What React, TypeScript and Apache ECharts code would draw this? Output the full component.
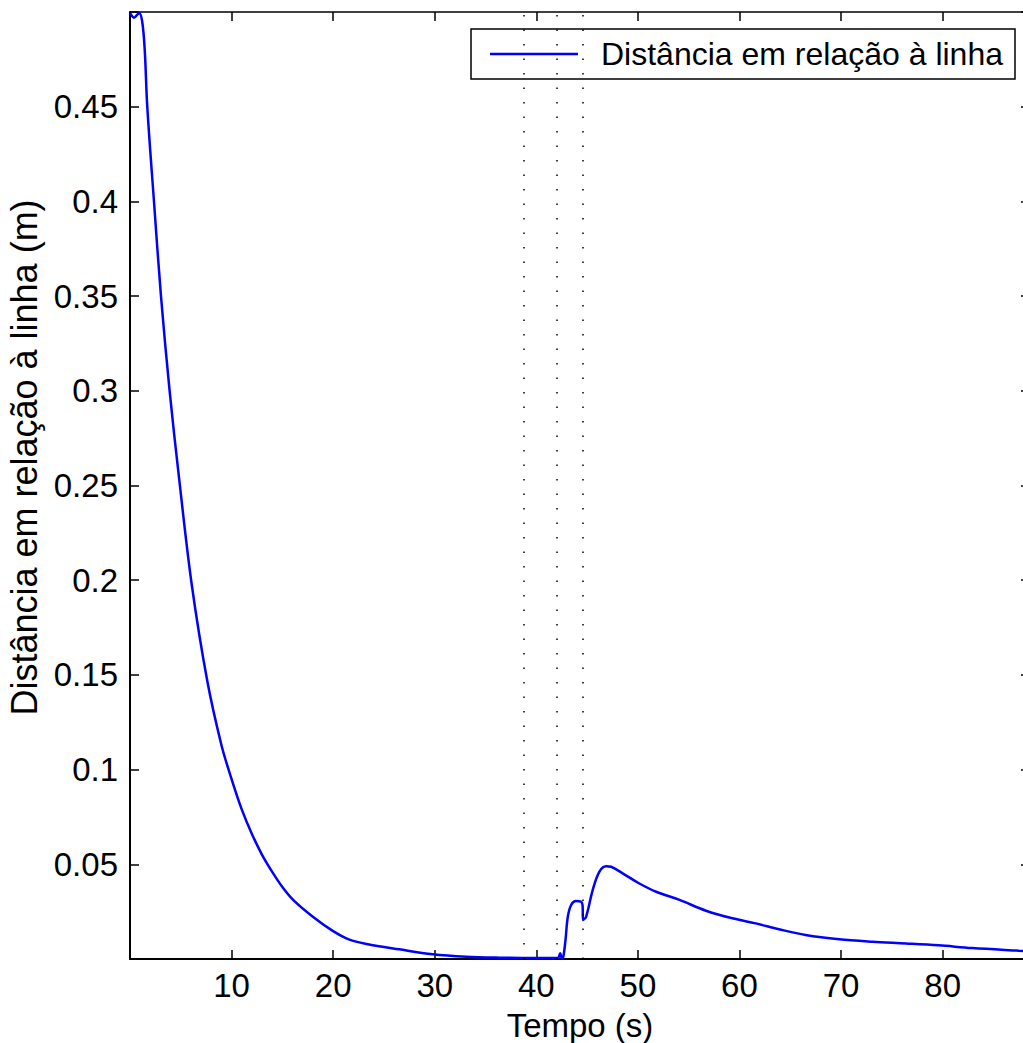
import React, { useEffect, useRef } from "react";
import * as echarts from "echarts";

const seriesName = "Distância em relação à linha";
const xTitle = "Tempo (s)";
const yTitle = "Distância em relação à linha (m)";

const timeS = [
  0, 0.4, 0.9, 1.2, 1.45, 1.7, 2.36, 3.05, 3.9, 4.85, 6.07, 7.6, 9.0, 10.0, 11.0,
  12.0, 13.0, 14.0, 15.0, 16.06, 18.0, 20.0, 21.6, 23.3, 26.5, 29.8, 33.1, 36.4, 40,
  42.1, 42.35, 42.5, 42.65, 42.87, 43.1, 43.43, 43.9, 44.4, 44.55, 44.6, 44.9, 45.55,
  46.2, 46.87, 47.36, 48.5, 50.1, 51.8, 54.1, 56.7, 59.3, 61.6, 63.9, 66.5, 69.8,
  73.1, 76.4, 79.6, 82.9, 87.5, 88.6,
];
const distM = [
  0.4995, 0.497, 0.4995, 0.495, 0.48, 0.45, 0.4, 0.35, 0.3, 0.253, 0.198, 0.147, 0.113,
  0.095, 0.079, 0.066, 0.055, 0.046, 0.038, 0.0312, 0.0223, 0.0147, 0.0102, 0.0079, 0.0051,
  0.0025, 0.0012, 0.0007, 0.0005, 0.0005, 0.003, 0.0005, 0.001, 0.01, 0.0223, 0.0285,
  0.0306, 0.0303, 0.0285, 0.0206, 0.0223, 0.0364, 0.046, 0.049, 0.0487, 0.0452, 0.04,
  0.0355, 0.0312, 0.0255, 0.0215, 0.0188, 0.0157, 0.0127, 0.0104, 0.0091, 0.0082,
  0.0072, 0.0058, 0.0044, 0.0041,
];
const markerTimes = [38.77, 42.05, 44.57];

const FONT = "Liberation Sans, Arial, Helvetica, sans-serif";

function line(width: number) {
  return { show: true, onZero: false, lineStyle: { color: "#000", width } };
}
function tick() {
  return { show: true, inside: true, length: 9, lineStyle: { color: "#000", width: 1.5 } };
}

export default function App() {
  const ref = useRef<HTMLDivElement>(null);
  useEffect(() => {
    if (!ref.current) return;
    const chart = echarts.init(ref.current, null, { renderer: "svg" });
    chart.setOption({
      animation: false,
      backgroundColor: "#fff",
      textStyle: { fontFamily: FONT },
      grid: {
        left: 130,
        top: 12,
        width: 900,
        height: 947,
        containLabel: false,
        outerBoundsMode: "none",
      },
      legend: {
        right: 8,
        top: 29,
        itemWidth: 88,
        itemHeight: 2.5,
        itemGap: 10,
        padding: [9, 12, 9, 19],
        borderColor: "#000",
        borderWidth: 1.5,
        borderRadius: 0,
        backgroundColor: "#fff",
        textStyle: { fontSize: 32, color: "#000", fontFamily: FONT, padding: [0, 0, 0, 18] },
        data: [{ name: seriesName, icon: "rect" }],
      },
      xAxis: [
        {
          type: "value",
          min: 0,
          max: 88.6,
          interval: 10,
          position: "bottom",
          name: xTitle,
          nameLocation: "middle",
          nameGap: 50,
          nameTextStyle: { fontSize: 33, color: "#000", fontFamily: FONT },
          axisLine: line(2),
          axisTick: tick(),
          splitLine: { show: false },
          axisLabel: {
            fontSize: 33,
            color: "#000",
            margin: 10,
            fontFamily: FONT,
            showMinLabel: false,
            formatter: (v: number) => (v === 0 || v > 85 ? "" : String(v)),
          },
        },
        {
          type: "value",
          min: 0,
          max: 88.6,
          interval: 10,
          position: "top",
          axisLine: line(1.5),
          axisTick: tick(),
          axisLabel: { show: false },
          splitLine: { show: false },
        },
      ],
      yAxis: [
        {
          type: "value",
          min: 0,
          max: 0.5,
          interval: 0.05,
          position: "left",
          name: yTitle,
          nameLocation: "middle",
          nameGap: 88,
          nameRotate: 90,
          nameTextStyle: {
            fontSize: 36,
            color: "#000",
            fontFamily: FONT,
            padding: [0, 0, 0, 56],
          },
          axisLine: line(2),
          axisTick: tick(),
          splitLine: { show: false },
          axisLabel: {
            fontSize: 33,
            color: "#000",
            margin: 12,
            fontFamily: FONT,
            formatter: (v: number) => (v <= 0 || v >= 0.499 ? "" : String(+v.toFixed(2))),
          },
        },
        {
          type: "value",
          min: 0,
          max: 0.5,
          interval: 0.05,
          position: "right",
          axisLine: line(1.5),
          axisTick: tick(),
          axisLabel: { show: false },
          splitLine: { show: false },
        },
      ],
      series: [
        {
          name: seriesName,
          type: "line",
          xAxisIndex: 0,
          yAxisIndex: 0,
          symbol: "none",
          smooth: 0.35,
          lineStyle: { color: "#0000ff", width: 2.5 },
          itemStyle: { color: "#0000ff" },
          data: timeS.map((t, i) => [t, distM[i]]),
          markLine: {
            silent: true,
            symbol: ["none", "none"],
            label: { show: false },
            lineStyle: { color: "#000", type: [1.5, 13], width: 1.5 },
            data: markerTimes.map((t) => ({ xAxis: t })),
          },
        },
      ],
    });
    return () => chart.dispose();
  }, []);
  return (
    <div
      ref={ref}
      style={{ position: "fixed", left: 0, top: 0, width: 1023, height: 1043, background: "#fff" }}
    />
  );
}
